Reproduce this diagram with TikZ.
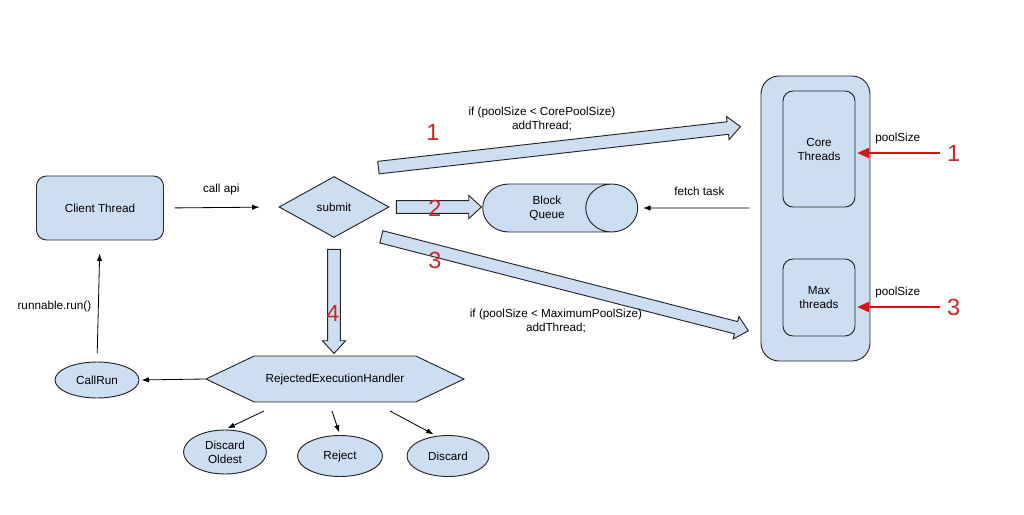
\documentclass[tikz,border=0pt]{standalone}
\usepackage{fontspec}
\setmainfont{Liberation Sans}
\usetikzlibrary{shapes.geometric,shapes.arrows,shapes.symbols,calc,arrows.meta}
\definecolor{boxblue}{RGB}{206,222,242}
\definecolor{numred}{RGB}{200,40,40}
\definecolor{linered}{RGB}{215,20,20}

% wide hollow arrow between two named points
\newcommand{\blockarrow}[2]{%
  \path let \p1=($(#2)-(#1)$), \n1={atan2(\y1,\x1)}, \n2={veclen(\x1,\y1)} in
    node[fat arrow, rotate=\n1, minimum height=\n2] at ($(#1)!0.5!(#2)$) {};}

\begin{document}
\begin{tikzpicture}[x=0.3mm,y=-0.3mm,
    font=\fontsize{10}{12}\selectfont,
    box/.style={draw=black!85, fill=boxblue, line width=0.8pt, rounded corners=3mm, align=center},
    oval/.style={ellipse, draw=black!85, fill=boxblue, line width=0.8pt, align=center, inner sep=0pt},
    fat arrow/.style={single arrow, draw=black!85, fill=boxblue, line width=0.8pt,
        inner xsep=0pt, inner ysep=1.75mm, single arrow head extend=1.6mm,
        single arrow tip angle=85, outer sep=0pt},
    link/.style={-{Latex[length=2.2mm,width=1.6mm]}, line width=0.7pt},
    pool/.style={-{Triangle[length=3.6mm,width=3mm]}, linered, line width=0.7mm},
    num/.style={numred, font=\fontsize{20}{24}\selectfont}]

    \fill[white] (0,0) rectangle (1024,515);
    \useasboundingbox (0,0) rectangle (1024,515);

    % nodes
    \node[box, minimum width=38.1mm, minimum height=19.2mm] (client) at (100,208) {Client Thread};
    \node[diamond, draw=black!85, fill=boxblue, line width=0.8pt, minimum width=33mm, minimum height=18.3mm,
        inner sep=0pt] (submit) at (334,207) {submit};
    \node[cylinder, draw=black!85, fill=boxblue, line width=0.8pt, shape aspect=2.1, align=center,
        minimum width=14.4mm, minimum height=46.5mm, inner sep=0pt] (queue) at (547,208) {Block\\Queue};
    \node[box, rounded corners=5.4mm, minimum width=32.7mm, minimum height=85.5mm] (threadpool) at (815.5,218.5) {};
    \node[box, minimum width=21.6mm, minimum height=34.8mm] (core) at (819,149) {Core\\Threads};
    \node[box, minimum width=21.6mm, minimum height=23.1mm] (max) at (819,297.5) {Max\\threads};
    \node[signal, signal to=east and west, signal pointer angle=51, draw=black!85, fill=boxblue,
        line width=0.8pt, minimum width=77.4mm, minimum height=13.8mm, inner sep=0pt] (handler) at (335,379) {RejectedExecutionHandler};
    \node[oval, minimum width=25.2mm, minimum height=10.8mm] (callrun) at (97,380) {CallRun};
    \node[oval, minimum width=24.9mm, minimum height=13.2mm] (oldest) at (225,452) {Discard\\Oldest};
    \node[oval, minimum width=25.5mm, minimum height=12.3mm] (reject) at (340,456) {Reject};
    \node[oval, minimum width=24.6mm, minimum height=12.3mm] (discard) at (448,456) {Discard};

    % wide arrows out of submit
    \coordinate (a1s) at (375,168);  \coordinate (a1e) at (737,127);
    \coordinate (a2s) at (393,207);  \coordinate (a2e) at (478,207);
    \coordinate (a3s) at (378,236);  \coordinate (a3e) at (745,330);
    \coordinate (a4s) at (334,246);  \coordinate (a4e) at (334,350);
    \blockarrow{a1s}{a1e}
    \blockarrow{a2s}{a2e}
    \blockarrow{a3s}{a3e}
    \blockarrow{a4s}{a4e}

    \node[num] (n1) at (433,132) {1};
    \node[num] (n2) at (435,208) {2};
    \node[num] (n3) at (435,260) {3};
    \node[num] (n4) at (333,313) {4};
    \node[align=center] (cond1) at (542,119) {if (poolSize < CorePoolSize)\\addThread;};
    \node[align=center] (cond3) at (556,321) {if (poolSize < MaximumPoolSize)\\addThread;};

    % thin arrows
    \draw[link, shorten <=3.3mm, shorten >=5.7mm] (client.east) -- node[above=2.6mm] {call api} (submit.west);
    \draw[link, shorten <=3.3mm, shorten >=1.5mm] (threadpool.west |- queue) -- node[above=2.4mm] {fetch task} (queue.east);
    \draw[link, shorten >=0.6mm] (handler.west) -- (callrun.east);
    \draw[link, shorten <=2.5mm, shorten >=3.9mm] (callrun.north) -- node[left=0.9mm, yshift=-1.5mm] {runnable.run()} (client.south);

    \coordinate (h1) at (264,411);
    \coordinate (h2) at (332,411);
    \coordinate (h3) at (390,411);
    \draw[link, shorten >=0.8mm] (h1) -- (oldest.north);
    \draw[link, shorten >=0.8mm] (h2) -- (reject.north);
    \draw[link, shorten >=1mm] (h3) -- (discard.120);

    % poolSize inputs
    \coordinate (r1) at (940,153);
    \coordinate (r3) at (940,307);
    \draw[pool, shorten >=0.5mm] (r1) node[num, right=0.6mm] {1} -- node[above=1.2mm, black] {poolSize} (r1 -| core.east);
    \draw[pool, shorten >=0.5mm] (r3) node[num, right=0.6mm] {3} -- node[above=1.2mm, black] {poolSize} (r3 -| max.east);
\end{tikzpicture}
\end{document}
